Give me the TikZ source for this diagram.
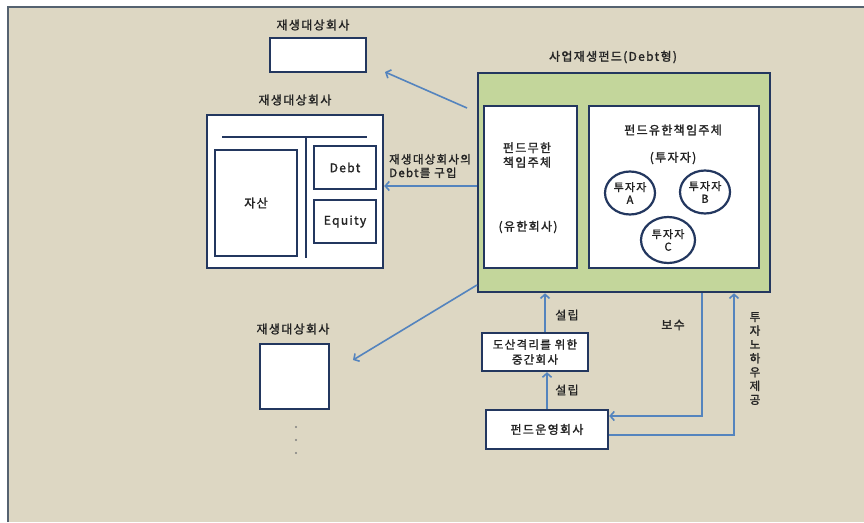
\documentclass[tikz,border=0pt]{standalone}
\usepackage{fontspec}
\setmainfont{Noto Sans CJK KR}[FakeBold=1.6, LetterSpace=11]
\usetikzlibrary{arrows.meta,shapes.geometric}
\definecolor{bg}{RGB}{221,215,195}
\definecolor{framec}{RGB}{85,98,112}
\definecolor{greenf}{RGB}{195,214,155}
\definecolor{navy}{RGB}{35,55,95}
\definecolor{arrblue}{RGB}{84,132,190}
\definecolor{txt}{RGB}{35,35,35}
\begin{document}
\begin{tikzpicture}[x=1pt,y=-1pt,
  every node/.style={font=\fontsize{12}{14}\selectfont, text=txt, inner sep=0pt},
  wbox/.style={draw=navy, line width=2.4pt, fill=white},
  gbox/.style={draw=navy, line width=2.6pt, fill=greenf},
  inv/.style={ellipse, draw=navy, line width=2.2pt, fill=white, minimum width=50pt, minimum height=43pt, align=center, font=\fontsize{11}{12.5}\selectfont},
  arr/.style={draw=arrblue, line width=1.6pt, -{Straight Barb[length=4pt,width=9pt]}}
]
\useasboundingbox (0,0) rectangle (864,522);
\fill[white] (0,0) rectangle (864,522);
\fill[bg] (8,7) rectangle (864,522);
\draw[framec, line width=2pt] (8,522) -- (8,7) -- (864,7);

% top target company
\node (t1lbl) at (313,25) {재생대상회사};
\node[wbox, minimum width=96pt, minimum height=34pt] (t1) at (318,55) {};

% middle target company with balance sheet
\node (t2lbl) at (295,100) {재생대상회사};
\node[wbox, minimum width=176pt, minimum height=153pt] (t2) at (295,191.5) {};
\coordinate (hl1) at (222,137);
\coordinate (hl2) at (367,137);
\coordinate (vl1) at (306,137);
\coordinate (vl2) at (306,258);
\draw[navy, line width=1.4pt] (hl1) -- (hl2);
\draw[navy, line width=1.4pt] (vl1) -- (vl2);
\node[wbox, minimum width=82pt, minimum height=106pt] (asset) at (256,203) {자산};
\node[wbox, minimum width=62pt, minimum height=43pt] (debt) at (345,167.5) {Debt};
\node[wbox, minimum width=62pt, minimum height=43pt] (equity) at (345,221.5) {Equity};

% bottom target company
\node (t3lbl) at (293,329) {재생대상회사};
\node[wbox, minimum width=69pt, minimum height=65pt] (t3) at (294.5,376.5) {};
\foreach \yy in {427,440,453} \fill[gray] (296,\yy) circle (1.2pt);

% fund
\node (fundlbl) at (613,57) {사업재생펀드(Debt형)};
\node[gbox, minimum width=292pt, minimum height=219pt] (fund) at (624,182.5) {};
\node[wbox, minimum width=93pt, minimum height=162pt] (gp) at (530.5,187) {};
\node[align=center, font=\fontsize{12}{14.5}\selectfont] (gptxt) at (527,155) {펀드무한\\책임주체};
\node (gptxt2) at (528,227) {(유한회사)};
\node[wbox, minimum width=170pt, minimum height=162pt] (lp) at (674,187) {};
\node (lptxt) at (673,130) {펀드유한책임주체};
\node (lptxt2) at (673,158) {(투자자)};
\node[inv] (ia) at (630,193) {투자자\\A};
\node[inv] (ib) at (705,192) {투자자\\B};
\node[inv, minimum width=54pt, minimum height=46pt] (ic) at (668,240) {투자자\\C};

% purchase debt arrow
\coordinate (pstart) at (fund.west |- 0,186);
\draw[arr] (pstart) -- (pstart -| t2.east);
\node[align=left, anchor=west, font=\fontsize{11.5}{13.5}\selectfont] (plbl) at (389,166) {재생대상회사의\\Debt를 구입};

% arrows to other targets
\coordinate (a1s) at (467,108);
\coordinate (a1e) at (385,72);
\draw[arr] (a1s) -- (a1e);
\coordinate (a3s) at (477,285);
\coordinate (a3e) at (353,360);
\draw[arr] (a3s) -- (a3e);

% intermediate and operator
\node[wbox, minimum width=106pt, minimum height=38pt, align=center, font=\fontsize{11.5}{15}\selectfont] (inter) at (535,352) {도산격리를 위한\\중간회사};
\node[wbox, minimum width=122pt, minimum height=39pt] (op) at (547,429.5) {펀드운영회사};
\coordinate (s1) at ([xshift=10pt]inter.north);
\draw[arr] (s1) -- (s1 |- fund.south);
\node (s1lbl) at (567,315) {설립};
\draw[arr] (op.north) -- (op.north |- inter.south);
\node (s2lbl) at (567,390) {설립};

% fee
\coordinate (f1) at (702,0);
\coordinate (f2) at (702,416);
\draw[arr] (f1 |- fund.south) -- (f2) -- (f2 -| op.east);
\node (feelbl) at (673,325) {보수};

% know-how
\coordinate (k1) at (734,435);
\draw[arr] (k1 -| op.east) -- (k1) -- (k1 |- fund.south);
\node[align=center, font=\fontsize{11.5}{13.8}\selectfont] (khlbl) at (755,358.5) {투\\자\\노\\하\\우\\제\\공};
\end{tikzpicture}
\end{document}
